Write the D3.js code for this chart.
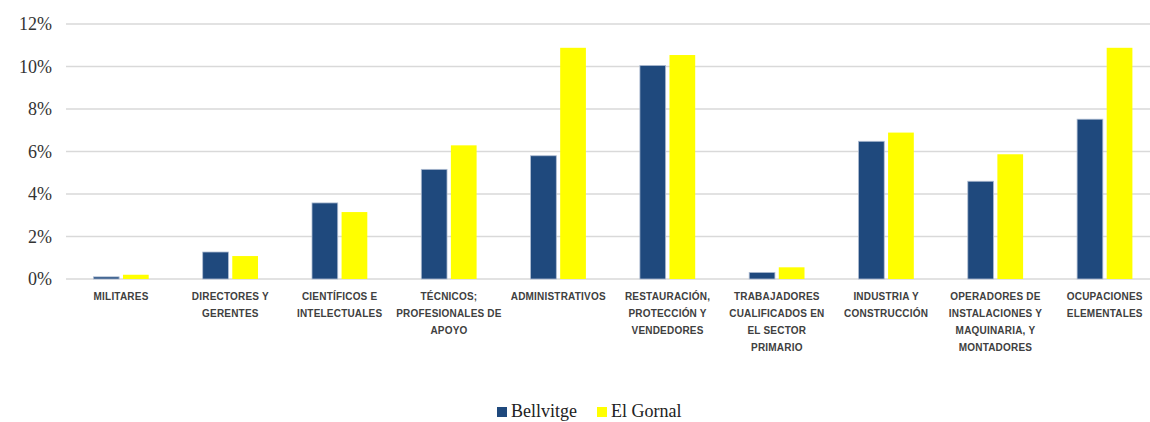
<!DOCTYPE html>
<html>
<head>
<meta charset="utf-8">
<script src="https://cdn.jsdelivr.net/npm/d3@7"></script>
<style>
  html, body { margin: 0; padding: 0; background: #fff; }
  svg { display: block; }
</style>
</head>
<body>
<div id="chart"></div>
<script>
// ---- data ----
const categoryLines = [
  ["MILITARES"],
  ["DIRECTORES Y", "GERENTES"],
  ["CIENTÍFICOS E", "INTELECTUALES"],
  ["TÉCNICOS;", "PROFESIONALES DE", "APOYO"],
  ["ADMINISTRATIVOS"],
  ["RESTAURACIÓN,", "PROTECCIÓN Y", "VENDEDORES"],
  ["TRABAJADORES", "CUALIFICADOS EN", "EL SECTOR", "PRIMARIO"],
  ["INDUSTRIA Y", "CONSTRUCCIÓN"],
  ["OPERADORES DE", "INSTALACIONES Y", "MAQUINARIA, Y", "MONTADORES"],
  ["OCUPACIONES", "ELEMENTALES"]
];
const categories = categoryLines.map(l => l.join(" "));
const seriesNames = ["Bellvitge", "El Gornal"];
const bellvitge = [0.10, 1.27, 3.58, 5.16, 5.80, 10.05, 0.31, 6.48, 4.60, 7.52];
const elGornal  = [0.20, 1.08, 3.15, 6.29, 10.88, 10.54, 0.55, 6.89, 5.87, 10.88];
const yTicks = [0, 2, 4, 6, 8, 10, 12];
const colors = ["#1f497d", "#ffff00"];

// ---- layout ----
const W = 1150, H = 422;
const svg = d3.select("#chart").append("svg").attr("width", W).attr("height", H);

const x = d3.scaleBand().domain(categories).range([66.4, 66.4 + 109.3 * 10]).paddingInner(0).paddingOuter(0);
const y = d3.scaleLinear().domain([0, 12]).range([279, 24]);
const bw = x.bandwidth();
const barW = bw * 0.22;
const gap = bw * 0.066;
const xs = d3.scaleBand().domain(seriesNames).range([bw / 2 - barW - gap / 2, bw / 2 + barW + gap / 2]).paddingInner(gap / (barW * 2 + gap));

// gridlines
svg.append("g").selectAll("line").data(yTicks).join("line")
  .attr("x1", 66).attr("x2", W)
  .attr("y1", d => y(d)).attr("y2", d => y(d))
  .attr("stroke", "#d9d9d9").attr("stroke-width", 1.5);

// y axis labels
const yAxis = d3.axisLeft(y).tickValues(yTicks).tickFormat(d => d + "%").tickSize(0).tickPadding(0);
const yg = svg.append("g").attr("transform", "translate(52,0)").call(yAxis);
yg.select(".domain").remove();
yg.selectAll("text")
  .attr("font-family", "'Liberation Serif', 'Times New Roman', serif")
  .attr("font-size", 18).attr("fill", "#333").attr("dy", "0.33em");

// bars
const data = categories.map((c, i) => ({ c, vals: [bellvitge[i], elGornal[i]] }));
const groups = svg.append("g").selectAll("g").data(data).join("g")
  .attr("transform", d => `translate(${x(d.c)},0)`);
groups.selectAll("rect").data(d => d.vals.map((v, j) => ({ v, s: seriesNames[j], j })))
  .join("rect")
  .attr("x", d => xs(d.s))
  .attr("width", xs.bandwidth())
  .attr("y", d => y(d.v))
  .attr("height", d => y(0) - y(d.v))
  .attr("fill", d => colors[d.j])
  .attr("stroke", d => d.j === 0 ? "#aebcd2" : "none")
  .attr("stroke-width", 0.8);

// x labels
const xl = svg.append("g");
categoryLines.forEach((lines, i) => {
  const t = xl.append("text")
    .attr("x", x(categories[i]) + bw / 2)
    .attr("y", 300)
    .attr("text-anchor", "middle")
    .attr("font-family", "'Liberation Sans', Arial, sans-serif")
    .attr("font-weight", "bold")
    .attr("font-size", 10)
    .attr("letter-spacing", 0.2)
    .attr("fill", "#404040");
  lines.forEach((ln, k) => {
    t.append("tspan").attr("x", x(categories[i]) + bw / 2).attr("y", 300 + k * 17).text(ln);
  });
});

// legend
const legend = svg.append("g");
const legX = [497, 597];
seriesNames.forEach((n, i) => {
  legend.append("rect").attr("x", legX[i]).attr("y", 407).attr("width", 10).attr("height", 10).attr("fill", colors[i]);
  legend.append("text").attr("x", legX[i] + 14).attr("y", 417)
    .attr("font-family", "'Liberation Serif', 'Times New Roman', serif")
    .attr("font-size", 18).attr("fill", "#222").text(n);
});
</script>
</body>
</html>
